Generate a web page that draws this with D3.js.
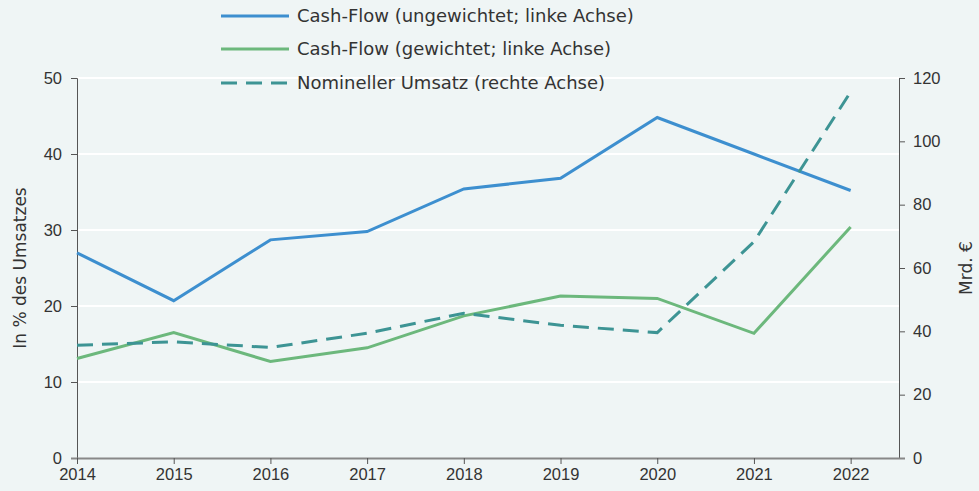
<!DOCTYPE html>
<html><head><meta charset="utf-8">
<script src="https://cdn.jsdelivr.net/npm/d3@7"></script>
<style>
html,body{margin:0;padding:0;background:#eff5f5;}
svg{display:block;font-family:"Century Gothic","DejaVu Sans","Noto Sans",sans-serif;}
</style></head>
<body><svg id="c" width="979" height="491"></svg>
<script>
const years = [2014, 2015, 2016, 2017, 2018, 2019, 2020, 2021, 2022];
const cashFlowUngewichtet = [27.0, 20.7, 28.7, 29.8, 35.4, 36.8, 44.8, 40.0, 35.2];
const cashFlowGewichtet = [13.1, 16.5, 12.7, 14.5, 18.7, 21.3, 21.0, 16.4, 30.4];
const nominellerUmsatz = [35.6, 36.7, 34.9, 39.4, 45.7, 41.9, 39.6, 68.3, 115.6];
const leftTicks = [0, 10, 20, 30, 40, 50];
const rightTicks = [0, 20, 40, 60, 80, 100, 120];
const legendLabels = ["Cash-Flow (ungewichtet; linke Achse)", "Cash-Flow (gewichtet; linke Achse)", "Nomineller Umsatz (rechte Achse)"];
const leftTitle = "In % des Umsatzes";
const rightTitle = "Mrd. €";

const colBlue = "#3d8fcf", colGreen = "#6cb87c", colTeal = "#3d9494";
const svg = d3.select("#c");
const L = 77, R = 899, T = 78, B = 458;
const x = d3.scaleLinear().domain([2014, 2022.5]).range([L, R]);
const yL = d3.scaleLinear().domain([0, 50]).range([B, T]);
const yR = d3.scaleLinear().domain([0, 120]).range([B, T]);

svg.append("rect").attr("width", 979).attr("height", 491).attr("fill", "#eff5f5");

// grid
svg.append("g").selectAll("line").data(leftTicks.filter(d => d > 0)).join("line")
  .attr("x1", L).attr("x2", R).attr("y1", d => yL(d)).attr("y2", d => yL(d))
  .attr("stroke", "#ffffff").attr("stroke-width", 2);

// axes
const axL = svg.append("g").attr("transform", `translate(${L},0)`)
  .call(d3.axisLeft(yL).tickValues(leftTicks).tickSize(6).tickPadding(9));
const axR = svg.append("g").attr("transform", `translate(${R},0)`)
  .call(d3.axisRight(yR).tickValues(rightTicks).tickSize(6).tickPadding(8));
const axB = svg.append("g").attr("transform", `translate(0,${B})`)
  .call(d3.axisBottom(x).tickValues(years).tickFormat(d3.format("d")).tickSize(6).tickPadding(4));
[axL, axR, axB].forEach(a => {
  a.selectAll("text").attr("font-size", 16.5).attr("fill", "#333").style("font-family", "inherit");
  a.selectAll("line").attr("stroke", "#555");
  a.select(".domain").attr("stroke", "#555");
});
axB.select(".domain").attr("d", `M${L - 6},0.5H${R + 6}`).attr("stroke", "#888").attr("stroke-width", 2);

// lines
const lineL = v => d3.line().x((d, i) => x(years[i])).y(d => yL(d))(v);
const lineR = v => d3.line().x((d, i) => x(years[i])).y(d => yR(d))(v);
svg.append("path").attr("d", lineL(cashFlowUngewichtet)).attr("fill", "none").attr("stroke", colBlue).attr("stroke-width", 3);
svg.append("path").attr("d", lineL(cashFlowGewichtet)).attr("fill", "none").attr("stroke", colGreen).attr("stroke-width", 3);
svg.append("path").attr("d", lineR(nominellerUmsatz)).attr("fill", "none").attr("stroke", colTeal).attr("stroke-width", 3)
  .attr("stroke-dasharray", "16,9");

// titles
svg.append("text").attr("transform", `translate(26,${(T + B) / 2}) rotate(-90)`).attr("text-anchor", "middle")
  .attr("font-size", 17).attr("fill", "#333").text(leftTitle);
svg.append("text").attr("transform", `translate(972,${(T + B) / 2}) rotate(-90)`).attr("text-anchor", "middle")
  .attr("font-size", 17).attr("fill", "#333").text(rightTitle);

// legend
const legY = [16, 49, 83];
const legCols = [colBlue, colGreen, colTeal];
const leg = svg.append("g");
legendLabels.forEach((t, i) => {
  leg.append("line").attr("x1", 221).attr("x2", 289).attr("y1", legY[i]).attr("y2", legY[i])
    .attr("stroke", legCols[i]).attr("stroke-width", 3).attr("stroke-dasharray", i === 2 ? "16,9" : null);
  leg.append("text").attr("x", 297).attr("y", legY[i] + 6).attr("font-size", 18).attr("fill", "#333").text(t);
});
</script></body></html>
